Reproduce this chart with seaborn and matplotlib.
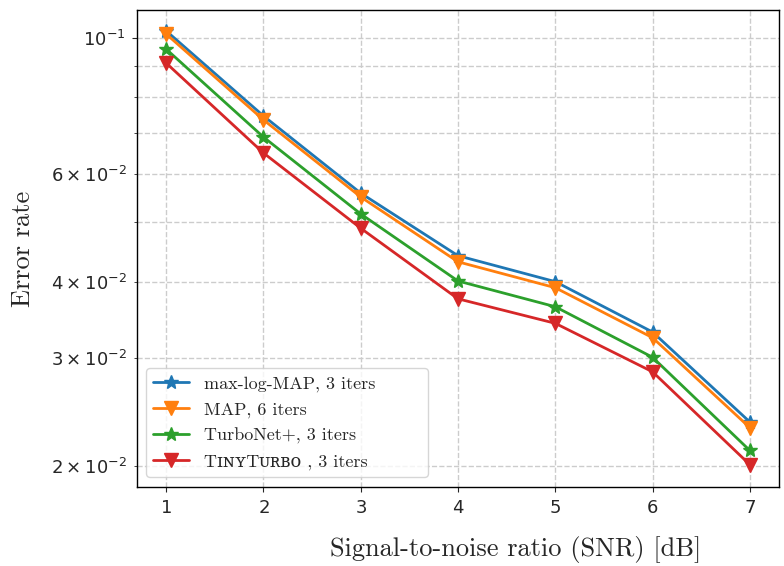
import matplotlib
matplotlib.use("Agg")
import matplotlib.pyplot as plt
import seaborn as sns
import pandas as pd
import numpy as np

snr = [1, 2, 3, 4, 5, 6, 7]
max_log_map = [0.1027, 0.0746, 0.0558, 0.0441, 0.0400, 0.0331, 0.0236]
map_6 = [0.1015, 0.0735, 0.0550, 0.0431, 0.0391, 0.0324, 0.0231]
turbonet = [0.0959, 0.0689, 0.0516, 0.0401, 0.0364, 0.0301, 0.0212]
tinyturbo = [0.0910, 0.0649, 0.0489, 0.0375, 0.0342, 0.0285, 0.0201]

labels = ["max-log-MAP, 3 iters", "MAP, 6 iters", "TurboNet+, 3 iters", "T\u026a\u0274\u028fT\u1d1c\u0280\u0299\u1d0f , 3 iters"]
series = [max_log_map, map_6, turbonet, tinyturbo]

rows = []
for lab, vals in zip(labels, series):
    for x, v in zip(snr, vals):
        rows.append({"snr": x, "err": v, "method": lab})
df = pd.DataFrame(rows)

sns.set_style("ticks")
plt.rcParams["axes.formatter.use_mathtext"] = True

fig = plt.figure(figsize=(7.84, 5.66), dpi=100)
ax = fig.add_axes([137/784, 1-487/566, (779-137)/784, (487-10)/566])

colors = ["#1f77b4", "#ff7f0e", "#2ca02c", "#d62728"]
markers = {labels[0]: "*", labels[1]: "v", labels[2]: "*", labels[3]: "v"}
sns.lineplot(data=df, x="snr", y="err", hue="method", style="method",
             palette=dict(zip(labels, colors)), markers=markers, dashes=False,
             markersize=9.5, linewidth=2.0, markeredgewidth=1.0, ax=ax)
ax.set_yscale("log")
ax.set_xlim(0.7, 7.3)
ax.set_ylim(0.01848, 0.1111)
ax.set_xticks(snr)
ax.grid(True, which="both", linestyle="--", color="#cccccc", linewidth=1.0)
for s in ax.spines.values():
    s.set_visible(True)
    s.set_color("black")
    s.set_linewidth(1.0)

serif = ["cmr10", "DejaVu Serif"]
ax.set_xlabel("Signal-to-noise ratio (SNR) [dB]", fontsize=19, family=serif, labelpad=14)
ax.xaxis.label.set_x(0.59)
ax.set_ylabel("Error rate", fontsize=19, family=serif, labelpad=12)
ax.tick_params(which="both", labelsize=13, pad=5)

leg = ax.legend(loc="lower left", bbox_to_anchor=(9/642, 10/477, 282/642, 0.2),
                mode="expand", borderaxespad=0,
                prop={"family": serif, "size": 13}, framealpha=0.8,
                labelspacing=0.55, handlelength=2.0)

def fix(line):
    c = line.get_color()
    line.set_markeredgecolor(c)
    line.set_markerfacecolor(c)
    if line.get_marker() == "*":
        line.set_markersize(10.5)

for ln in list(ax.lines) + list(leg.get_lines()):
    fix(ln)

fig.savefig("out.png", dpi=100)
